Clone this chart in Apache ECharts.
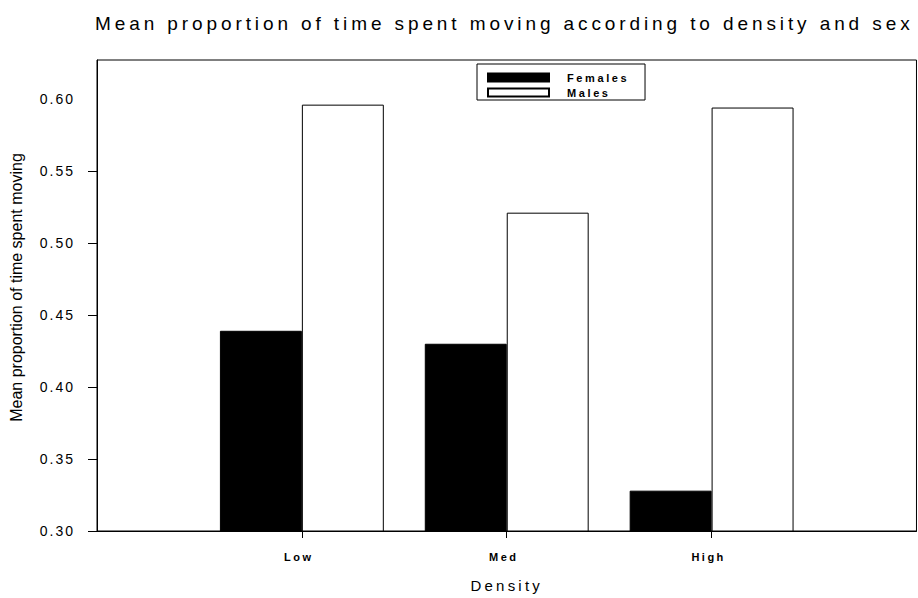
<!DOCTYPE html>
<html>
<head>
<meta charset="utf-8">
<script src="https://cdn.jsdelivr.net/npm/echarts@6/dist/echarts.min.js"></script>
<style>
html,body{margin:0;padding:0;background:#fff;}
#chart{width:918px;height:598px;}
</style>
</head>
<body>
<div id="chart"></div>
<script>
// ---- data ----
const titleText = 'Mean proportion of time spent moving according to density and sex';
const categories = ['Low', 'Med', 'High'];
const seriesNames = ['Females', 'Males'];
const females = [0.439, 0.430, 0.328];
const males = [0.596, 0.521, 0.594];
const yTickLabels = [0.30, 0.35, 0.40, 0.45, 0.50, 0.55, 0.60];
const yTickMarks = [0.30, 0.35, 0.40, 0.45, 0.50, 0.55];
const xAxisName = 'Density';
const yAxisName = 'Mean proportion of time spent moving';

// ---- chart ----
const FONT = "'Liberation Sans', Arial, sans-serif";
const axisCats = [''].concat(categories, [' ']);
const pad = arr => [null].concat(arr, [null]);

const chart = echarts.init(document.getElementById('chart'), null, {renderer: 'svg'});
chart.setOption({
  animation: false,
  backgroundColor: '#fff',
  title: {
    text: titleText,
    left: 95, top: 14, padding: 0,
    textStyle: {fontFamily: FONT, fontSize: 19, fontWeight: 'normal', color: '#000'}
  },
  legend: {
    orient: 'vertical',
    left: 477, top: 64,
    padding: [8, 34, 2, 10],
    borderColor: '#000', borderWidth: 1,
    itemWidth: 61, itemHeight: 8, itemGap: 4,
    icon: 'rect',
    data: seriesNames,
    textStyle: {fontFamily: FONT, fontSize: 11, fontWeight: 'bold', color: '#000', padding: [0,0,0,13]}
  },
  grid: {
    left: 97, right: 1, top: 60, bottom: 66,
    show: true, borderColor: '#000', borderWidth: 1, backgroundColor: 'transparent'
  },
  xAxis: {
    type: 'category',
    data: axisCats,
    boundaryGap: false,
    name: xAxisName,
    nameLocation: 'middle',
    nameGap: 47,
    nameTextStyle: {fontFamily: FONT, fontSize: 15, color: '#000'},
    axisLine: {show: true, lineStyle: {color: '#000', width: 1}},
    axisTick: {show: true, length: 7, lineStyle: {color: '#000'},
      interval: (i, v) => categories.indexOf(v) >= 0},
    axisLabel: {
      interval: 0,
      margin: 20,
      fontFamily: FONT, fontSize: 11, fontWeight: 'bold', color: '#000',
      padding: [0, 6, 0, 0]
    },
    splitLine: {show: false}
  },
  yAxis: {
    type: 'value',
    min: 0.3, max: 0.627, interval: 0.05,
    name: yAxisName,
    nameLocation: 'middle',
    nameGap: 73,
    nameRotate: 90,
    nameTextStyle: {fontFamily: FONT, fontSize: 16, color: '#000', padding: [0, 0, 0, 16]},
    axisLine: {show: true, lineStyle: {color: '#000', width: 1}},
    axisTick: {show: true, length: 9, lineStyle: {color: '#000'}, customValues: yTickMarks},
    axisLabel: {
      customValues: yTickLabels,
      margin: 22,
      formatter: v => v.toFixed(2),
      fontFamily: FONT, fontSize: 14, color: '#000'
    },
    splitLine: {show: false}
  },
  series: [
    {
      name: seriesNames[0], type: 'bar',
      data: pad(females),
      barWidth: '40%', barGap: '0%',
      itemStyle: {color: '#000', borderColor: '#000', borderWidth: 1}
    },
    {
      name: seriesNames[1], type: 'bar',
      data: pad(males),
      barWidth: '40%', barGap: '0%',
      itemStyle: {color: '#fff', borderColor: '#000', borderWidth: 1}
    }
  ]
});

// letter spacing as in the original typeset figure
function applySpacing() {
  const yl = yTickLabels.map(v => v.toFixed(2));
  document.querySelectorAll('#chart svg text').forEach(t => {
    const s = t.textContent;
    let ls = null;
    if (s === titleText) ls = 3.9;
    else if (yl.indexOf(s) >= 0) ls = 2;
    else if (categories.indexOf(s) >= 0) ls = 2.5;
    else if (s === xAxisName) ls = 3.2;
    else if (seriesNames.indexOf(s) >= 0) ls = 2.6;
    if (ls !== null) t.setAttribute('letter-spacing', ls + 'px');
  });
}
chart.on('finished', applySpacing);
setTimeout(applySpacing, 50);
</script>
</body>
</html>
